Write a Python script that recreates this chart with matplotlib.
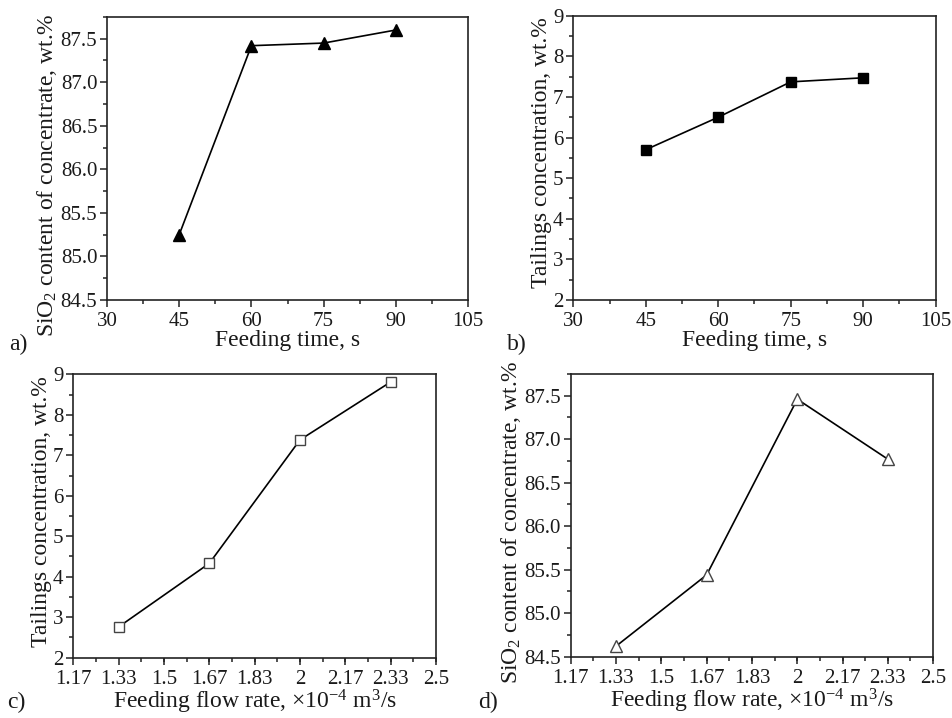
import matplotlib
matplotlib.use("Agg")
import matplotlib.pyplot as plt
from matplotlib.ticker import AutoMinorLocator

plt.rcParams['font.family'] = ['Liberation Serif', 'DejaVu Serif']
plt.rcParams['mathtext.fontset'] = 'custom'
plt.rcParams['mathtext.rm'] = 'Liberation Serif'
plt.rcParams['mathtext.it'] = 'Liberation Serif:italic'

# Data
feed_time = [45, 60, 75, 90]
sio2_time = [85.25, 87.42, 87.45, 87.60]
tail_time = [5.70, 6.50, 7.37, 7.47]

flow_rate = [1.3333, 1.6667, 2.0, 2.3333]
tail_flow = [2.76, 4.33, 7.38, 8.81]
sio2_flow = [84.62, 85.44, 87.46, 86.77]

time_ticks = [30, 45, 60, 75, 90, 105]
flow_ticks = [1.1667, 1.3333, 1.5, 1.6667, 1.8333, 2.0, 2.1667, 2.3333, 2.5]
flow_labels = ["1.17", "1.33", "1.5", "1.67", "1.83", "2", "2.17", "2.33", "2.5"]
sio2_ticks = [84.5, 85.0, 85.5, 86.0, 86.5, 87.0, 87.5]
tail_ticks = [2, 3, 4, 5, 6, 7, 8, 9]

fig = plt.figure(figsize=(9.53, 7.18), dpi=100)
TXT = '#1a1a1a'
LBL = 17
TCK = 15

axa = fig.add_axes([0.1123, 0.5822, 0.3788, 0.3942])
axb = fig.add_axes([0.6016, 0.5822, 0.3802, 0.3960])
axc = fig.add_axes([0.0769, 0.0840, 0.3806, 0.3947])
axd = fig.add_axes([0.5988, 0.0854, 0.3805, 0.3937])

def style(ax, label_y):
    for s in ax.spines.values():
        s.set_linewidth(1.2)
        s.set_color('#222222')
    ax.tick_params(which='both', direction='out', top=False, right=False,
                   colors='#222222', labelcolor=TXT, labelsize=TCK, width=1.1)
    ax.tick_params(which='major', length=5)
    ax.tick_params(axis='x', which='major', pad=4)
    ax.tick_params(axis='y', which='major', pad=2)
    ax.tick_params(which='minor', length=3)
    ax.xaxis.set_minor_locator(AutoMinorLocator(2))
    ax.yaxis.set_minor_locator(AutoMinorLocator(2))
    ax.yaxis.label.set_y(label_y)

# a
axa.plot(feed_time, sio2_time, '-', color='black', lw=1.2, marker='^', ms=8,
         mfc='black', mec='black')
axa.set_xlim(30, 105); axa.set_xticks(time_ticks)
axa.set_ylim(84.5, 87.75); axa.set_yticks(sio2_ticks)
axa.set_yticklabels([f"{v:.1f}" for v in sio2_ticks])
axa.set_xlabel("Feeding time, s", fontsize=LBL, color=TXT, labelpad=-1)
axa.set_ylabel("SiO$_2$ content of concentrate, wt.%", fontsize=LBL, color=TXT, labelpad=1)
style(axa, 0.442)

# b
axb.plot(feed_time, tail_time, '-', color='black', lw=1.2, marker='s', ms=7,
         mfc='black', mec='black')
axb.set_xlim(30, 105); axb.set_xticks(time_ticks)
axb.set_ylim(2, 9); axb.set_yticks(tail_ticks)
axb.set_xlabel("Feeding time, s", fontsize=LBL, color=TXT, labelpad=-1)
axb.set_ylabel("Tailings concentration, wt.%", fontsize=LBL, color=TXT, labelpad=1)
style(axb, 0.52)

# c
axc.plot(flow_rate, tail_flow, '-', color='black', lw=1.2, marker='s', ms=7,
         mfc='white', mec='#444444', mew=1.0)
axc.set_xlim(1.1667, 2.5); axc.set_xticks(flow_ticks); axc.set_xticklabels(flow_labels)
axc.set_ylim(2, 9); axc.set_yticks(tail_ticks)
axc.set_xlabel(r"Feeding flow rate, $\times 10^{-4}$ m$^3$/s", fontsize=LBL, color=TXT, labelpad=-1)
axc.set_ylabel("Tailings concentration, wt.%", fontsize=LBL, color=TXT, labelpad=1)
style(axc, 0.514)

# d
axd.plot(flow_rate, sio2_flow, '-', color='black', lw=1.2, marker='^', ms=9,
         mfc='white', mec='#444444', mew=1.0)
axd.set_xlim(1.1667, 2.5); axd.set_xticks(flow_ticks); axd.set_xticklabels(flow_labels)
axd.set_ylim(84.5, 87.75); axd.set_yticks(sio2_ticks)
axd.set_yticklabels([f"{v:.1f}" for v in sio2_ticks])
axd.set_xlabel(r"Feeding flow rate, $\times 10^{-4}$ m$^3$/s", fontsize=LBL, color=TXT, labelpad=-1)
axd.set_ylabel("SiO$_2$ content of concentrate, wt.%", fontsize=LBL, color=TXT, labelpad=1)
style(axd, 0.476)

# panel labels
fig.text(0.010, 0.520, "a)", fontsize=LBL, color=TXT, va='center')
fig.text(0.532, 0.520, "b)", fontsize=LBL, color=TXT, va='center')
fig.text(0.008, 0.022, "c)", fontsize=LBL, color=TXT, va='center')
fig.text(0.502, 0.022, "d)", fontsize=LBL, color=TXT, va='center')

fig.savefig("out.png", dpi=100)
